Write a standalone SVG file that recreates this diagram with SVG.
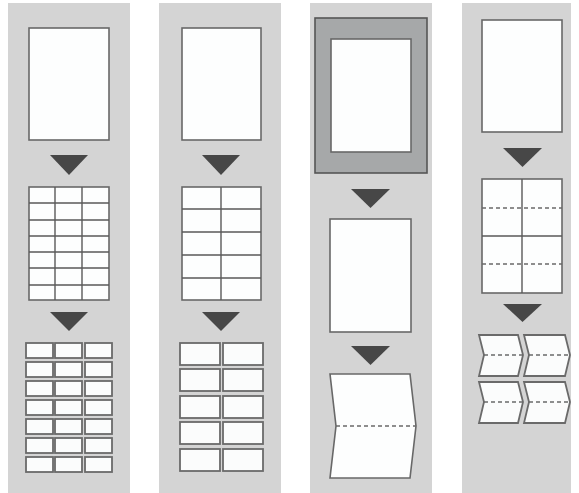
<svg xmlns="http://www.w3.org/2000/svg" width="579" height="493" viewBox="0 0 579 493">
<style>
.panel{fill:#d4d4d4}
.sheet{fill:#fdfefe;stroke:#686868;stroke-width:1.6}
.grid{fill:none;stroke:#5a5a5a;stroke-width:1.4}
.small{fill:#fbfcfc;stroke:#6a6a6a;stroke-width:1.8}
.frame{fill:#a6a8a9;stroke:#555;stroke-width:1.6}
.dash{fill:none;stroke:#6a6a6a;stroke-width:1.4;stroke-dasharray:4 3}
.arrow{fill:#474747}
</style>
<rect width="579" height="493" fill="#ffffff"/>
<g id="panels">
<rect class="panel" x="8" y="3" width="122" height="490"/>
<rect class="panel" x="159" y="3" width="122" height="490"/>
<rect class="panel" x="310" y="3" width="122" height="490"/>
<rect class="panel" x="462" y="3" width="109" height="490"/>
</g>
<g id="col1-sheet"><rect class="sheet" x="29" y="28" width="80" height="112"/></g>
<g id="col1-grid">
<rect class="sheet" x="29" y="187" width="80" height="113"/>
<path class="grid" d="M55,187V300M82,187V300M29,203H109M29,220H109M29,236H109M29,252H109M29,268H109M29,285H109"/>
</g>
<g id="col1-cut">
<rect class="small" x="26" y="343" width="27" height="15"/><rect class="small" x="55" y="343" width="27" height="15"/><rect class="small" x="85" y="343" width="27" height="15"/>
<rect class="small" x="26" y="362" width="27" height="15"/><rect class="small" x="55" y="362" width="27" height="15"/><rect class="small" x="85" y="362" width="27" height="15"/>
<rect class="small" x="26" y="381" width="27" height="15"/><rect class="small" x="55" y="381" width="27" height="15"/><rect class="small" x="85" y="381" width="27" height="15"/>
<rect class="small" x="26" y="400" width="27" height="15"/><rect class="small" x="55" y="400" width="27" height="15"/><rect class="small" x="85" y="400" width="27" height="15"/>
<rect class="small" x="26" y="419" width="27" height="15"/><rect class="small" x="55" y="419" width="27" height="15"/><rect class="small" x="85" y="419" width="27" height="15"/>
<rect class="small" x="26" y="438" width="27" height="15"/><rect class="small" x="55" y="438" width="27" height="15"/><rect class="small" x="85" y="438" width="27" height="15"/>
<rect class="small" x="26" y="457" width="27" height="15"/><rect class="small" x="55" y="457" width="27" height="15"/><rect class="small" x="85" y="457" width="27" height="15"/>
</g>
<g id="col2-sheet"><rect class="sheet" x="182" y="28" width="79" height="112"/></g>
<g id="col2-grid">
<rect class="sheet" x="182" y="187" width="79" height="113"/>
<path class="grid" d="M221,187V300M182,209H261M182,232H261M182,255H261M182,278H261"/>
</g>
<g id="col2-cut">
<rect class="small" x="180" y="343" width="40" height="22"/><rect class="small" x="223" y="343" width="40" height="22"/>
<rect class="small" x="180" y="369" width="40" height="22"/><rect class="small" x="223" y="369" width="40" height="22"/>
<rect class="small" x="180" y="396" width="40" height="22"/><rect class="small" x="223" y="396" width="40" height="22"/>
<rect class="small" x="180" y="422" width="40" height="22"/><rect class="small" x="223" y="422" width="40" height="22"/>
<rect class="small" x="180" y="449" width="40" height="22"/><rect class="small" x="223" y="449" width="40" height="22"/>
</g>
<g id="col3-frame">
<rect class="frame" x="315" y="18" width="112" height="155"/>
<rect class="sheet" x="331" y="39" width="80" height="113"/>
</g>
<g id="col3-sheet"><rect class="sheet" x="330" y="219" width="81" height="113"/></g>
<g id="col3-fold">
<path class="sheet" d="M330,374H410L416,426L410,478H330L336,426Z"/>
<path class="dash" d="M336,426H416"/>
</g>
<g id="col4-sheet"><rect class="sheet" x="482" y="20" width="80" height="112"/></g>
<g id="col4-grid">
<rect class="sheet" x="482" y="179" width="80" height="114"/>
<path class="grid" d="M522,179V293M482,236H562"/>
<path class="dash" d="M482,208H562M482,264H562"/>
</g>
<g id="col4-fold">
<path class="small" d="M479,335H518L523,355L518,376H479L484,355Z"/>
<path class="small" d="M524,335H565L570,355L565,376H524L529,355Z"/>
<path class="small" d="M479,382H518L523,402L518,423H479L484,402Z"/>
<path class="small" d="M524,382H565L570,402L565,423H524L529,402Z"/>
<path class="dash" d="M484,355H523M529,355H570M484,402H523M529,402H570"/>
</g>
<g id="connectors">
<polygon class="arrow" points="50,155 88,155 69,175"/>
<polygon class="arrow" points="50,312 88,312 69,331"/>
<polygon class="arrow" points="202,155 240,155 221,175"/>
<polygon class="arrow" points="202,312 240,312 221,331"/>
<polygon class="arrow" points="351,189 390,189 370.5,208"/>
<polygon class="arrow" points="351,346 390,346 370.5,365"/>
<polygon class="arrow" points="503,148 542,148 522.5,167"/>
<polygon class="arrow" points="503,304 542,304 522.5,322"/>
</g>
</svg>
